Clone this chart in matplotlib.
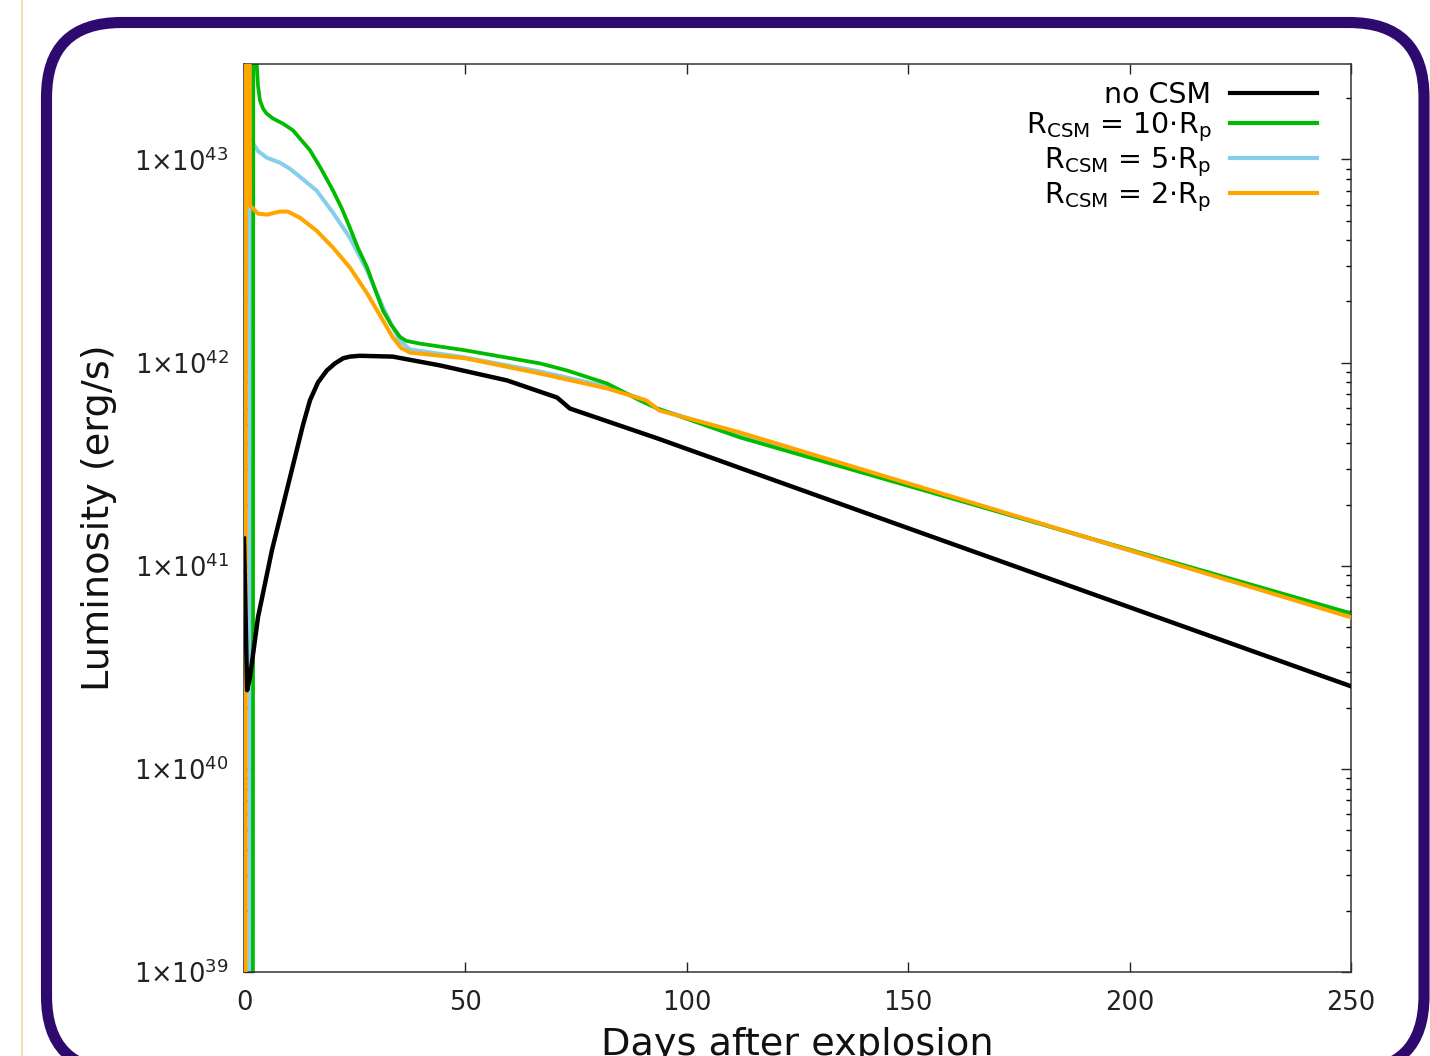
import matplotlib
matplotlib.use("Agg")
import matplotlib.pyplot as plt
from matplotlib.patches import FancyBboxPatch
from matplotlib.lines import Line2D
from matplotlib.ticker import FixedLocator, NullFormatter

# ---------------- data (days, erg/s) ----------------
nocsm_days = [0.0, 0.7, 1.35, 3.16, 6.3, 11.9, 13.3, 14.9, 16.7, 18.7, 20.55, 22.4,
              23.9, 26.2, 33.6, 44.3, 59.4, 70.7, 73.6, 93.3, 150.0, 250.0]
nocsm_lum = [1.36e41, 2.44e40, 2.82e40, 5.57e40, 1.19e41, 3.70e41, 4.91e41, 6.52e41,
             7.98e41, 9.14e41, 9.91e41, 1.05e42, 1.07e42, 1.08e42, 1.07e42, 9.68e41,
             8.17e41, 6.73e41, 5.94e41, 4.24e41, 1.53e41, 2.55e40]

csm10_days = [2.0, 2.1, 2.87, 3.16, 3.61, 4.29, 5.13, 6.55, 8.81, 11.07, 12.6, 14.9,
              17.4, 20.1, 22.1, 23.9, 25.7, 27.8, 29.6, 31.4, 33.2, 35.2, 36.6, 39.7,
              49.9, 66.8, 72.9, 82.0, 89.4, 93.3, 112.0, 250.0]
csm10_lum = [1e38, 1e44, 2.96e43, 2.31e43, 1.95e43, 1.78e43, 1.68e43, 1.59e43, 1.50e43,
             1.39e43, 1.27e43, 1.11e43, 9.0e42, 7.03e42, 5.73e42, 4.62e42, 3.68e42,
             2.94e42, 2.29e42, 1.80e42, 1.54e42, 1.34e42, 1.28e42, 1.24e42, 1.15e42,
             9.91e41, 9.15e41, 7.89e41, 6.51e41, 5.95e41, 4.28e41, 5.83e40]

csm5_days = [1.2, 1.3, 1.75, 2.03, 3.16, 5.13, 8.1, 10.3, 12.6, 16.4, 20.1, 23.9, 27.8,
             31.4, 33.4, 35.2, 37.5, 49.9, 66.8, 82.0, 89.4, 93.3, 112.0, 250.0]
csm5_lum = [1e38, 1e44, 3.0e43, 1.20e43, 1.10e43, 1.02e43, 9.64e42, 9.02e42, 8.23e42,
            7.02e42, 5.47e42, 4.12e42, 2.84e42, 1.87e42, 1.52e42, 1.28e42, 1.16e42,
            1.06e42, 9.04e41, 7.62e41, 6.66e41, 5.94e41, 4.43e41, 5.64e40]

csm2_days = [0.35, 0.45, 1.2, 1.35, 3.16, 5.2, 8.1, 9.9, 12.6, 16.4, 20.1, 23.9, 27.8,
             31.4, 33.6, 35.5, 37.5, 49.9, 66.8, 82.0, 90.9, 93.8, 112.0, 250.0]
csm2_lum = [1e38, 1e44, 1e44, 5.93e42, 5.41e42, 5.35e42, 5.54e42, 5.54e42, 5.17e42,
            4.46e42, 3.68e42, 2.94e42, 2.19e42, 1.61e42, 1.33e42, 1.18e42, 1.12e42,
            1.05e42, 8.84e41, 7.46e41, 6.51e41, 5.81e41, 4.53e41, 5.57e40]

series_labels = ["no CSM",
                 r"R$_{\rm CSM}$ = 10$\cdot$R$_{\rm p}$",
                 r"R$_{\rm CSM}$ = 5$\cdot$R$_{\rm p}$",
                 r"R$_{\rm CSM}$ = 2$\cdot$R$_{\rm p}$"]
x_ticks = [0, 50, 100, 150, 200, 250]
y_ticks = [1e39, 1e40, 1e41, 1e42, 1e43]
y_tick_labels = ["1×10$^{39}$", "1×10$^{40}$", "1×10$^{41}$",
                 "1×10$^{42}$", "1×10$^{43}$"]

# ---------------- figure ----------------
W, H = 1430, 1056
fig = plt.figure(figsize=(W / 100, H / 100), dpi=100)
fig.patch.set_facecolor("white")
plt.rcParams["font.family"] = ["DejaVu Sans"]
plt.rcParams["mathtext.fontset"] = "dejavusans"

ax = fig.add_axes([244 / W, 1 - 972 / H, (1351 - 244) / W, (972 - 64) / H])

ax.plot(csm2_days, csm2_lum, color="#ffa500", lw=2.9, label=series_labels[3], zorder=3)
ax.plot(csm5_days, csm5_lum, color="#87ceeb", lw=2.9, label=series_labels[2], zorder=2)
ax.plot(csm10_days, csm10_lum, color="#00bb00", lw=2.7, label=series_labels[1], zorder=2.5)
ax.plot(nocsm_days, nocsm_lum, color="black", lw=3.2, label=series_labels[0], zorder=4)

ax.set_yscale("log")
ax.set_xlim(0, 250)
ax.set_ylim(1e39, 2.95e43)

ax.xaxis.set_major_locator(FixedLocator(x_ticks))
ax.set_xticklabels([str(t) for t in x_ticks])
ax.yaxis.set_major_locator(FixedLocator(y_ticks))
ax.set_yticklabels(y_tick_labels)
minors = [m * 10.0 ** e for e in range(39, 44) for m in range(2, 10)]
ax.yaxis.set_minor_locator(FixedLocator(minors))
ax.yaxis.set_minor_formatter(NullFormatter())

ax.tick_params(axis="both", which="major", direction="in", length=7.5, width=1.0,
               top=True, right=True, labelsize=18.5, colors="#222222")
ax.tick_params(axis="x", which="major", pad=13)
ax.tick_params(axis="y", which="major", pad=11)
ax.tick_params(axis="y", which="minor", direction="in", length=3.8, width=1.0,
               left=True, right=True)
ax.tick_params(axis="x", which="minor", bottom=False, top=False)
for sp in ax.spines.values():
    sp.set_linewidth(1.1)
    sp.set_color("#333333")

ax.set_xlabel("Days after explosion", fontsize=27.5, labelpad=8, color="#111111")
ax.set_ylabel("Luminosity (erg/s)", fontsize=27.5, labelpad=12, color="#111111")

handles, labels = ax.get_legend_handles_labels()
order = [3, 2, 1, 0]
leg = ax.legend([handles[i] for i in order], [labels[i] for i in order],
                loc="upper right", bbox_to_anchor=(0.9693, 0.9813), markerfirst=False,
                frameon=False, fontsize=20.5, handlelength=3.05, handletextpad=0.67,
                labelspacing=0.05, borderaxespad=0.0, borderpad=0.0)
for ln in leg.get_lines():
    ln.set_linewidth(3.0)

# ---------------- decorations ----------------
frame = FancyBboxPatch((46.5 / 100, (H - 1071) / 100), (1424 - 46.5) / 100,
                       (1071 - 22.5) / 100,
                       boxstyle="round,pad=0,rounding_size=0.75",
                       transform=fig.dpi_scale_trans, fill=False,
                       edgecolor="#2f0a6e", linewidth=8.0, zorder=10)
fig.add_artist(frame)
fig.add_artist(Line2D([22 / W, 22 / W], [0, 1], transform=fig.transFigure,
                      color="#efd9a3", lw=1.2, zorder=10))

fig.savefig("out.png", dpi=100)
